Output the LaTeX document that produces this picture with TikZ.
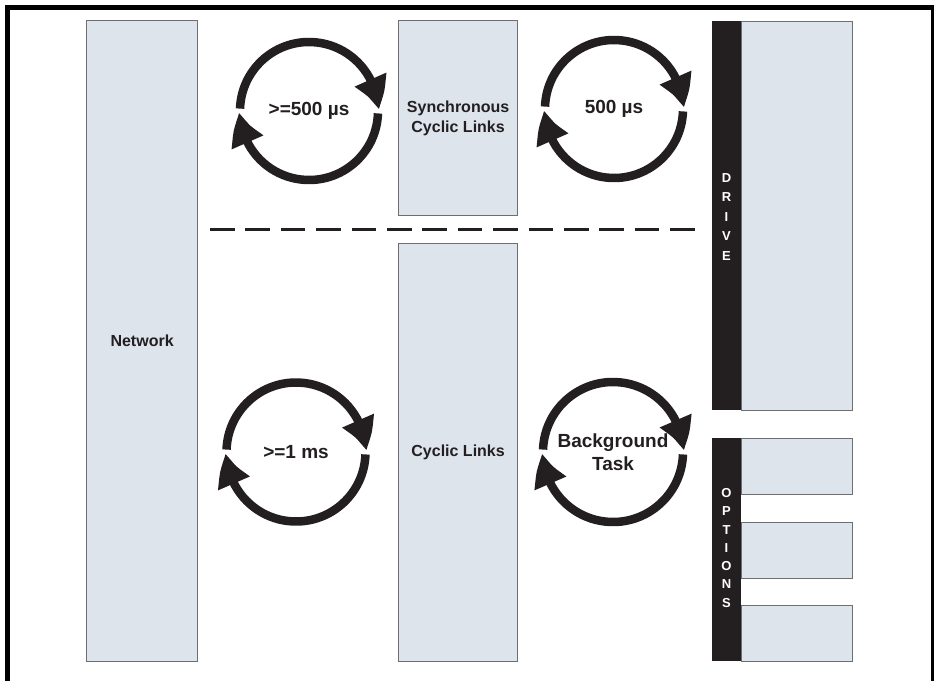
\documentclass[tikz,border=0pt]{standalone}
\usepackage{fontspec}
\setmainfont{Liberation Sans}
\usetikzlibrary{arrows.meta,bending}
\definecolor{boxfill}{HTML}{DDE4EC}
\definecolor{barcol}{HTML}{231F20}
\definecolor{edgecol}{HTML}{6D6E71}
\begin{document}
\begin{tikzpicture}[x=1pt,y=-1pt,
  panel/.style={draw=edgecol, line width=1.2pt, fill=boxfill, inner sep=0pt, anchor=north west,
    font=\bfseries\fontsize{16}{20}\selectfont, align=center, text=barcol},
  darkbar/.style={fill=barcol, draw=none, inner sep=0pt, anchor=north west},
  cyc/.style={font=\bfseries\fontsize{19}{23}\selectfont, align=center, text=barcol, inner sep=0pt},
  vlet/.style={font=\bfseries\fontsize{13}{15}\selectfont, text=white, inner sep=0pt},
  loop/.style={line width=8.5pt, draw=barcol, -{Triangle[length=32pt,width=32pt,bend]}},
  sep/.style={line width=3pt, draw=barcol, dash pattern=on 24.5pt off 10.9pt},
  frame/.style={line width=5pt, draw=black},
]
\useasboundingbox (0,0) rectangle (934,680);
\clip (0,0) rectangle (934,680);

% outer frame
\draw[frame] (7.5,690) -- (7.5,7.5) -- (933.5,7.5) -- (933.5,690);

% main panels
\node[panel, minimum width=111pt, minimum height=641pt] (net) at (86,20) {Network};
\node[panel, minimum width=119pt, minimum height=195pt] (sync) at (398,20) {Synchronous\\Cyclic Links};
\node[panel, minimum width=119pt, minimum height=418pt] (cyc) at (398,243) {Cyclic Links};

% drive
\node[darkbar, minimum width=29pt, minimum height=389pt] (drvbar) at (712,21) {};
\node[panel, minimum width=111pt, minimum height=389pt] (drv) at (741,21) {};
\foreach \l [count=\i] in {D,R,I,V,E}
  \node[vlet] (d\i) at (726.5,{178+19.5*(\i-1)}) {\l};

% options
\node[darkbar, minimum width=29pt, minimum height=223pt] (optbar) at (712,438) {};
\node[panel, minimum width=111pt, minimum height=56pt] (opt1) at (741,438) {};
\node[panel, minimum width=111pt, minimum height=56pt] (opt2) at (741,522) {};
\node[panel, minimum width=111pt, minimum height=56pt] (opt3) at (741,605) {};
\foreach \l [count=\i] in {O,P,T,I,O,N,S}
  \node[vlet] (o\i) at (726.5,{493+18.3*(\i-1)}) {\l};

% dashed separator
\coordinate (sepL) at (210,229);
\coordinate (sepR) at (695,229);
\draw[sep] (sepL) -- (sepR);

% cycles
\node[cyc] (c1) at (309,111) {>=500 µs};
\node[cyc] (c2) at (614,109) {500 µs};
\node[cyc] (c3) at (296,452) {>=1 ms};
\node[cyc] (c4) at (613,452) {Background\\Task};

\foreach \c/\r in {c1/69, c2/69, c3/69.5, c4/70}{
  \draw[loop] (\c.center) ++(178:\r pt) arc[start angle=178, end angle=1, radius=\r pt];
  \draw[loop] (\c.center) ++(-2:\r pt) arc[start angle=-2, end angle=-179, radius=\r pt];
}
\end{tikzpicture}
\end{document}
